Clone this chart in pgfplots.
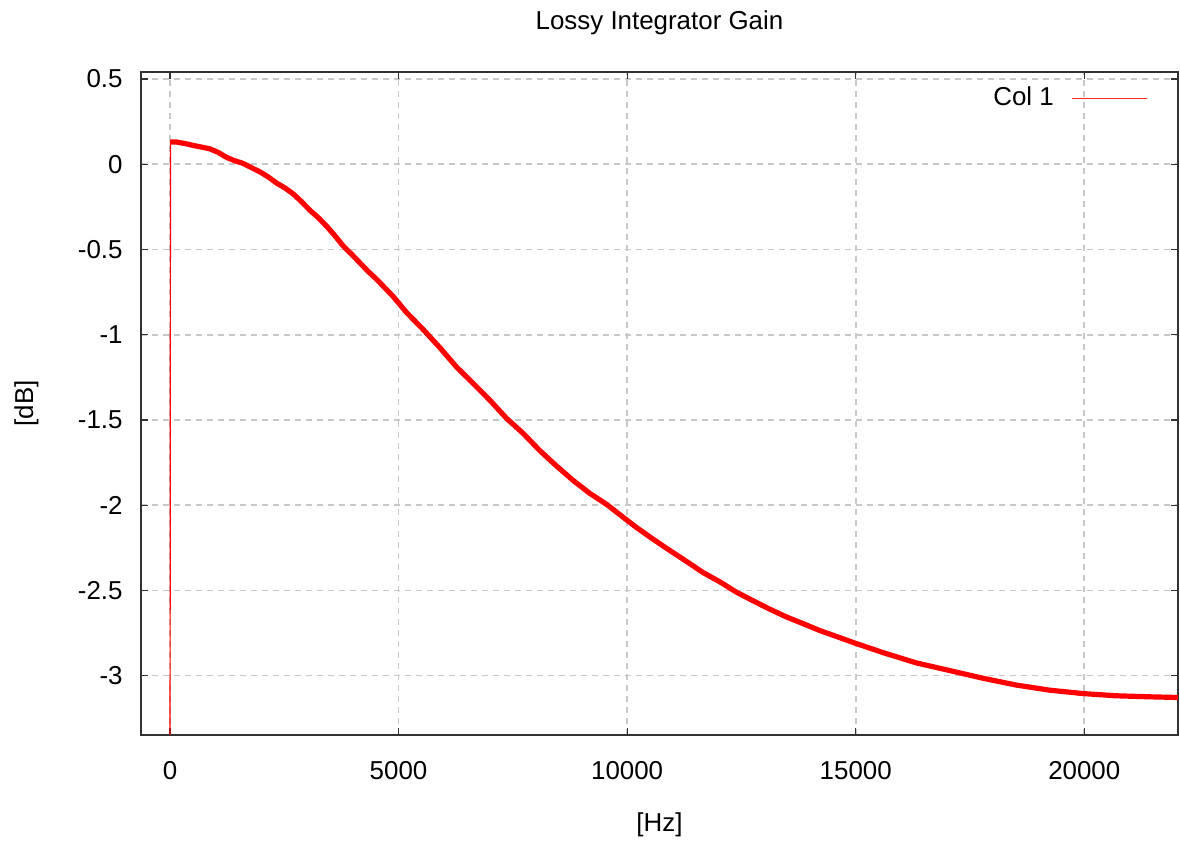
\documentclass[border=0pt]{standalone}
\usepackage{fontspec}
\setmainfont{Liberation Sans}
\usepackage{pgfplots}
\pgfplotsset{compat=1.18}
\definecolor{gridgray}{RGB}{200,200,200}
\definecolor{framegray}{RGB}{50,50,50}
\begin{document}
\fontsize{13}{15}\selectfont
\begin{tikzpicture}
\useasboundingbox (-70.5bp,-53bp) rectangle (519.5bp,367.5bp);
\begin{axis}[
  name=ax,
  scale only axis,
  width=518.5bp, height=331.5bp,
  xmin=-634, xmax=22050,
  ymin=-3.348, ymax=0.541,
  scaled x ticks=false, scaled y ticks=false,
  axis line style={framegray, line width=0.6bp},
  xtick={0,5000,10000,15000,20000},
  xticklabels={0,5000,10000,15000,20000},
  ytick={-3,-2.5,-2,-1.5,-1,-0.5,0,0.5},
  yticklabels={-3,-2.5,-2,-1.5,-1,-0.5,0,0.5},
  tick align=inside,
  major tick length=3.5bp,
  tick style={framegray, line width=0.6bp},
  minor tick num=0,
  grid=major,
  major grid style={gridgray, line width=0.8bp, dash pattern=on 3bp off 2.5bp},
  xticklabel style={inner sep=0pt, anchor=base, yshift=-22.5bp, font=\fontsize{13}{15}\selectfont},
  yticklabel style={inner sep=0pt, anchor=east, xshift=-9bp, font=\fontsize{13}{15}\selectfont},
  title={Lossy Integrator Gain},
  title style={at={(rel axis cs:0.5,1.0468)}, anchor=base, inner sep=0pt, font=\fontsize{13}{15}\selectfont},
  xlabel={[Hz]},
  xlabel style={at={(rel axis cs:0.5,-0.1463)}, anchor=base, inner sep=0pt, font=\fontsize{13}{15}\selectfont},
  ylabel={[dB]},
  ylabel style={at={(rel axis cs:-0.1041,0.5)}, rotate=0, anchor=base, inner sep=0pt, font=\fontsize{13}{15}\selectfont},
  legend plot pos=right,
  legend image code/.code={\path (0bp,0bp); \draw[#1] (9bp,0bp) -- (46.5bp,0bp);},
  legend style={draw=none, fill=none, at={(rel axis cs:1,1)}, anchor=north east,
    xshift=-15bp, yshift=-7.5bp, inner sep=0pt, outer sep=0pt,
    nodes={inner sep=0pt}, font=\fontsize{13}{15}\selectfont},
  legend cell align=right,
  clip=true,
]
\addlegendimage{red!85!white, line width=0.6bp}
\addlegendentry{Col 1}
\addplot[red, line width=0.6bp, forget plot] coordinates {(0,-4) (11,0.14)};
\addplot[red, line width=2.6bp, line join=round, forget plot] coordinates {
(11,0.13) (150,0.13) (350,0.12) (510,0.11) (700,0.10) (875,0.09)
(1050,0.07) (1240,0.04) (1420,0.02) (1600,0.005) (1780,-0.02) (1970,-0.045)
(2150,-0.075) (2330,-0.11) (2520,-0.14) (2700,-0.175) (2880,-0.22) (3060,-0.27)
(3250,-0.315) (3430,-0.365) (3610,-0.42) (3790,-0.48) (3980,-0.53) (4160,-0.58)
(4340,-0.63) (4520,-0.675) (4700,-0.725) (4880,-0.775) (5175,-0.87) (5540,-0.97)
(5900,-1.075) (6270,-1.19) (6630,-1.285) (7000,-1.385) (7360,-1.49) (7730,-1.58)
(8090,-1.68) (8455,-1.77) (8820,-1.855) (9180,-1.93) (9550,-1.995) (9910,-2.07)
(10200,-2.13) (10570,-2.20) (10930,-2.265) (11300,-2.33) (11660,-2.395) (12030,-2.45)
(12390,-2.51) (12750,-2.56) (13120,-2.61) (13480,-2.655) (13850,-2.695) (14210,-2.735)
(14580,-2.77) (14940,-2.805) (15600,-2.865) (16325,-2.925) (17055,-2.97) (17780,-3.015)
(18510,-3.055) (19240,-3.085) (19970,-3.105) (20700,-3.118) (21425,-3.124) (22050,-3.128)
};
\end{axis}
\end{tikzpicture}
\end{document}
